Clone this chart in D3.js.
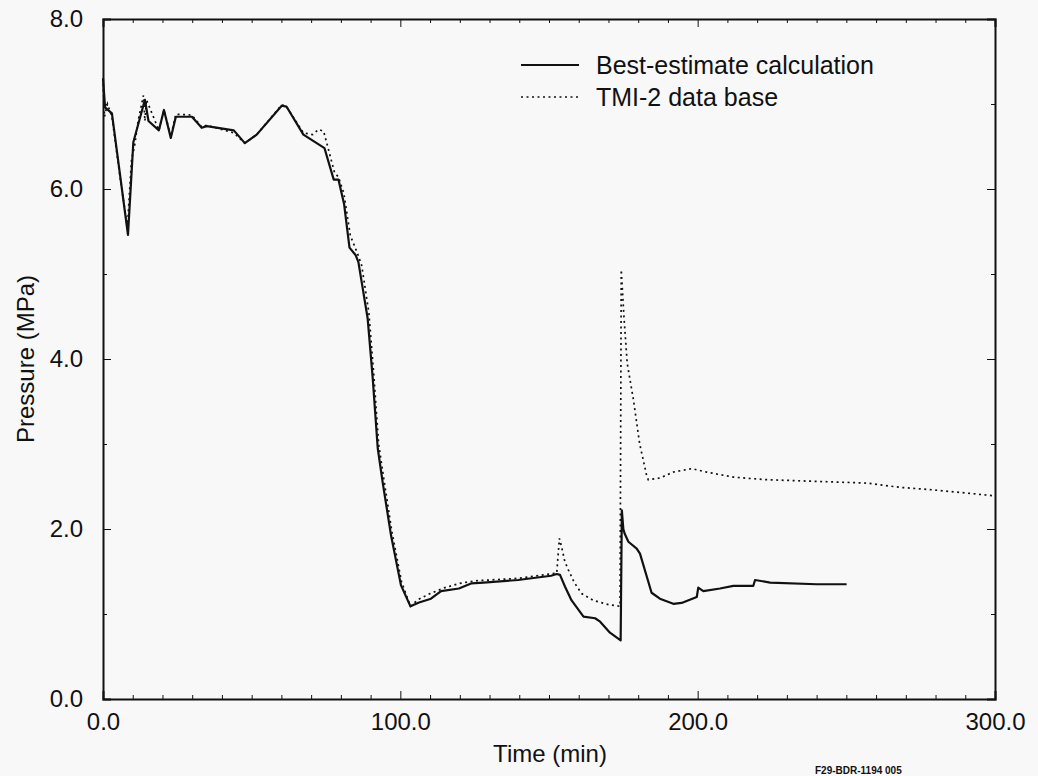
<!DOCTYPE html>
<html>
<head>
<meta charset="utf-8">
<script src="https://cdn.jsdelivr.net/npm/d3@7"></script>
<style>
  body { margin: 0; background: #f8f8f8; }
  svg { display: block; font-family: "Liberation Sans", Arial, Helvetica, sans-serif; }
  .axis path, .axis line { stroke: #111; }
  .axis text { fill: #111; font-size: 24px; }
</style>
</head>
<body>
<svg id="chart" width="1038" height="776"></svg>
<script>
// Best-estimate calculation (solid line)
const calcTime = [0, 0.7, 3.0, 8.4, 10.2, 14.1, 15.3, 18.8, 20.5, 22.8, 24.5, 29.9, 33.2, 34.9, 44.0, 47.7,
  51.7, 60.1, 61.7, 67.4, 74.5, 77.6, 79.2, 81.1, 82.9, 85.0, 85.9, 89.0, 90.7, 92.4, 94.1, 96.9, 100.2,
  103.4, 106.3, 110.3, 113.7, 119.7, 123.8, 128.0, 139.6, 150.7, 152.6, 153.7, 155.4, 157.6, 161.6, 165.5,
  167.2, 170.5, 174.1, 174.5, 175.0, 175.4, 176.7, 179.5, 180.6, 184.5, 187.3, 191.8, 194.6, 199.7, 200.2,
  201.9, 207.5, 212.0, 218.7, 219.3, 224.4, 240.0, 250.1];
const calcPressure = [7.3, 6.96, 6.89, 5.46, 6.55, 7.05, 6.8, 6.69, 6.93, 6.60, 6.85, 6.85, 6.72, 6.74, 6.69, 6.54,
  6.64, 6.98, 6.97, 6.64, 6.48, 6.11, 6.11, 5.82, 5.31, 5.22, 5.14, 4.48, 3.78, 2.95, 2.54, 1.92, 1.34,
  1.09, 1.135, 1.18, 1.27, 1.30, 1.36, 1.37, 1.40, 1.45, 1.47, 1.46, 1.32, 1.16, 0.97, 0.95,
  0.91, 0.78, 0.69, 2.22, 2.0, 1.95, 1.85, 1.77, 1.71, 1.25, 1.18, 1.12, 1.13, 1.20, 1.31,
  1.27, 1.30, 1.33, 1.33, 1.40, 1.37, 1.35, 1.35];

// TMI-2 data base (dotted line)
const dataTime = [0, 0.5, 1.5, 3.0, 5.5, 8.2, 9.6, 10.6, 11.8, 13.6, 14.1, 14.6, 18.8, 20.5, 22.8, 24.5, 29.9,
  33.2, 34.9, 44.0, 47.7, 51.7, 60.1, 61.7, 67.4, 70.5, 72.5, 74.2, 77.9, 79.2, 81.0, 83.2, 85.5, 87.0,
  89.4, 91.0, 92.7, 94.4, 97.1, 100.4, 103.4, 106, 110, 115, 120, 125, 140, 150, 152.6, 153.1, 153.5,
  154.3, 155.3, 156.5, 158.5, 161, 164.9, 170, 173.9, 174.3, 175.2, 176.3, 178.4, 180.5, 182.9, 183.4, 187.3, 191.8,
  198, 203, 212, 223.2, 240, 256.9, 268, 279.3, 300];
const dataPressure = [7.3, 6.85, 7.0, 6.85, 6.2, 5.55, 6.35, 6.5, 6.8, 7.1, 6.8, 7.05, 6.69, 6.93, 6.62, 6.88, 6.87,
  6.73, 6.75, 6.66, 6.54, 6.64, 6.99, 6.97, 6.66, 6.64, 6.70, 6.68, 6.19, 6.14, 5.95, 5.45, 5.25, 5.1,
  4.55, 3.85, 3.0, 2.6, 1.98, 1.38, 1.09, 1.17, 1.24, 1.31, 1.36, 1.39, 1.42, 1.47, 1.48, 1.71, 1.89,
  1.78, 1.62, 1.52, 1.37, 1.24, 1.16, 1.11, 1.09, 5.05, 4.5, 3.95, 3.52, 3.0, 2.62, 2.58, 2.60, 2.67,
  2.71, 2.67, 2.61, 2.58, 2.56, 2.54, 2.49, 2.46, 2.39];

const xMajor = [0, 100, 200, 300];
const yMajor = [0, 2, 4, 6, 8];
const seriesNames = ["Best-estimate calculation", "TMI-2 data base"];

const svg = d3.select("#chart");
const plotLeft = 103, plotRight = 995, plotTop = 19, plotBottom = 699;

const x = d3.scaleLinear().domain([0, 300]).range([plotLeft, plotRight]);
const y = d3.scaleLinear().domain([0, 8]).range([plotBottom, plotTop]);

const xMinor = d3.range(0, 301, 10).filter(v => v % 100 !== 0);
const yMinor = [1, 3, 5, 7];

// bottom axis (ticks inward)
svg.append("g").attr("class", "axis")
    .attr("transform", `translate(0,${plotBottom})`)
    .call(d3.axisBottom(x).tickValues(xMajor).tickSize(-8).tickPadding(14).tickFormat(d3.format(".1f")))
    .call(g => g.select(".domain").attr("stroke-width", 2));
svg.append("g").attr("class", "axis")
    .attr("transform", `translate(0,${plotBottom})`)
    .call(d3.axisBottom(x).tickValues(xMinor).tickSize(-4).tickFormat(""))
    .call(g => g.select(".domain").remove());

// top axis
svg.append("g").attr("class", "axis")
    .attr("transform", `translate(0,${plotTop})`)
    .call(d3.axisTop(x).tickValues(xMajor).tickSize(-8).tickFormat(""))
    .call(g => g.select(".domain").attr("stroke-width", 2));
svg.append("g").attr("class", "axis")
    .attr("transform", `translate(0,${plotTop})`)
    .call(d3.axisTop(x).tickValues(xMinor).tickSize(-4).tickFormat(""))
    .call(g => g.select(".domain").remove());

// left axis
svg.append("g").attr("class", "axis")
    .attr("transform", `translate(${plotLeft},0)`)
    .call(d3.axisLeft(y).tickValues(yMajor).tickSize(-8).tickPadding(20).tickFormat(d3.format(".1f")))
    .call(g => g.select(".domain").attr("stroke-width", 2));
svg.append("g").attr("class", "axis")
    .attr("transform", `translate(${plotLeft},0)`)
    .call(d3.axisLeft(y).tickValues(yMinor).tickSize(-4).tickFormat(""))
    .call(g => g.select(".domain").remove());

// right axis
svg.append("g").attr("class", "axis")
    .attr("transform", `translate(${plotRight},0)`)
    .call(d3.axisRight(y).tickValues(yMajor).tickSize(-8).tickFormat(""))
    .call(g => g.select(".domain").attr("stroke-width", 2));
svg.append("g").attr("class", "axis")
    .attr("transform", `translate(${plotRight},0)`)
    .call(d3.axisRight(y).tickValues(yMinor).tickSize(-4).tickFormat(""))
    .call(g => g.select(".domain").remove());

svg.selectAll(".axis .domain").attr("fill", "none");

// curves
const line = d3.line().x(d => x(d[0])).y(d => y(d[1]));

svg.append("path")
    .datum(dataTime.map((t, i) => [t, dataPressure[i]]))
    .attr("d", line)
    .attr("fill", "none")
    .attr("stroke", "#111")
    .attr("stroke-width", 1.7)
    .attr("stroke-dasharray", "2,3.5");

svg.append("path")
    .datum(calcTime.map((t, i) => [t, calcPressure[i]]))
    .attr("d", line)
    .attr("fill", "none")
    .attr("stroke", "#111")
    .attr("stroke-width", 2.2)
    .attr("stroke-linejoin", "round");

// legend
const legend = svg.append("g");
seriesNames.forEach((name, i) => {
    const ly = 65 + i * 32;
    legend.append("line")
        .attr("x1", 521).attr("x2", 579)
        .attr("y1", ly).attr("y2", ly)
        .attr("stroke", "#111")
        .attr("stroke-width", i === 0 ? 2 : 1.7)
        .attr("stroke-dasharray", i === 0 ? null : "2,3.5");
    legend.append("text")
        .attr("x", 596).attr("y", ly + 9)
        .attr("font-size", 25)
        .attr("fill", "#111")
        .text(name);
});

// axis titles
svg.append("text")
    .attr("transform", `translate(34,${(plotTop + plotBottom) / 2}) rotate(-90)`)
    .attr("text-anchor", "middle")
    .attr("font-size", 24)
    .attr("fill", "#111")
    .text("Pressure (MPa)");

svg.append("text")
    .attr("x", 550).attr("y", 762)
    .attr("text-anchor", "middle")
    .attr("font-size", 24)
    .attr("fill", "#111")
    .text("Time (min)");

svg.append("text")
    .attr("x", 815).attr("y", 774)
    .attr("font-size", 10)
    .attr("font-weight", "bold")
    .attr("fill", "#111")
    .text("F29-BDR-1194 005");
</script>
</body>
</html>
